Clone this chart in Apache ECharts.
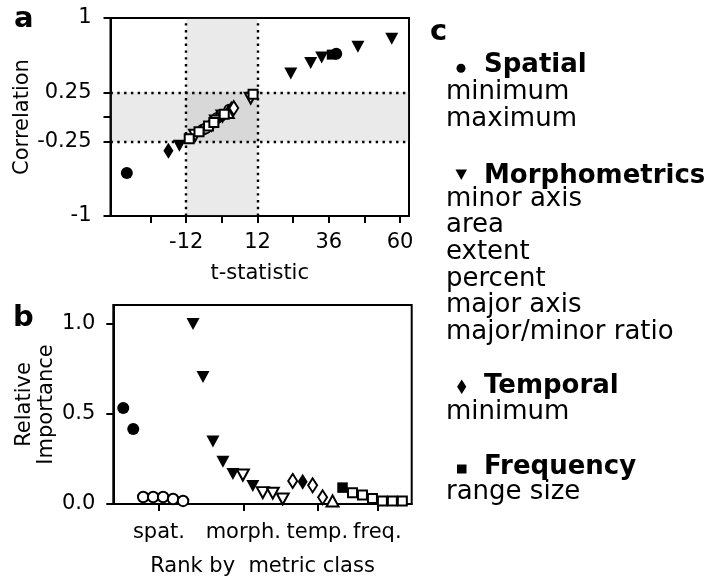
<!DOCTYPE html>
<html>
<head>
<meta charset="utf-8">
<script src="https://cdn.jsdelivr.net/npm/echarts@6/dist/echarts.min.js"></script>
<style>
html,body{margin:0;padding:0;background:#fff;}
#chart{width:714px;height:581px;}
</style>
</head>
<body>
<div id="chart"></div>
<script>
// ---------- Panel a: t-statistic vs correlation ----------
const spatialFilledA = [[-32, -0.566], [38.5, 0.64]];
const spatialOpenA = [[-6.5, -0.13], [-5.5, -0.115], [-1.6, -0.01], [-0.2, 0.013], [2.5, 0.074]];
const morphFilledA = [[-14.3, -0.29], [23.2, 0.44], [29.9, 0.545], [33.6, 0.6], [45.8, 0.71], [57.2, 0.79]];
const morphOpenA = [[-9, -0.185], [-2, -0.04], [0.2, 0.01], [9.7, 0.19]];
const tempFilledA = [[-18, -0.34]];
const tempOpenA = [[-3.5, -0.07], [3.2, 0.075], [4, 0.09]];
const tempUpOpenA = [[2, 0.045]];
const freqFilledA = [[37, 0.63]];
const freqOpenA = [[-11, -0.22], [-7.7, -0.15], [-4.5, -0.09], [-2.7, -0.055], [0.8, 0.027], [10.5, 0.23]];
const xTicksA = [-24, -12, 0, 12, 24, 36, 48, 60];
const xLabelsA = [-12, 12, 36, 60];
const yTicksA = [-1, -0.25, 0, 0.25, 1];
const yLabelsA = [-1, -0.25, 0.25, 1];
const tBand = [-12, 12];
const rBand = [-0.25, 0.25];

// ---------- Panel b: rank vs relative importance ----------
const spatialFilledB = [[0, 0.533], [1, 0.417]];
const spatialOpenB = [[2, 0.039], [3, 0.039], [4, 0.039], [5, 0.028], [6, 0.017]];
const morphFilledB = [[7, 1.0], [8, 0.705], [9, 0.347], [10, 0.235], [11, 0.167], [13, 0.10]];
const morphOpenB = [[12, 0.161], [14, 0.063], [15, 0.06], [16, 0.028]];
const tempFilledB = [[18, 0.124]];
const tempOpenB = [[17, 0.128], [19, 0.104], [20, 0.037]];
const tempUpOpenB = [[21, 0.017]];
const freqFilledB = [[22, 0.091]];
const freqOpenB = [[23, 0.063], [24, 0.05], [25, 0.03], [26, 0.017], [27, 0.017], [28, 0.017]];
const classTicksB = [3.58, 12.04, 19.47, 25.49];
const classNamesB = ['spat.', 'morph.', 'temp.', 'freq.'];
const yTicksB = [0, 0.5, 1.0];

// ---------- Panel c: legend text ----------
const legendHeaders = ['Spatial', 'Morphometrics', 'Temporal', 'Frequency'];
const legendItems = [
  ['minimum', 'maximum'],
  ['minor axis', 'area', 'extent', 'percent', 'major axis', 'major/minor ratio'],
  ['minimum'],
  ['range size']
];

const FONT = '"DejaVu Sans", "Liberation Sans", sans-serif';
const FS = 21;

const chart = echarts.init(document.getElementById('chart'), null, {renderer: 'canvas'});

function axisCommon() {
  return {
    axisLine: {show: true, onZero: false, lineStyle: {color: '#000', width: 2}},
    axisTick: {show: true, inside: false, length: 7, lineStyle: {color: '#000', width: 2}},
    splitLine: {show: false},
    axisLabel: {color: '#000', fontSize: FS, fontFamily: FONT},
    nameTextStyle: {color: '#000', fontSize: FS, fontFamily: FONT}
  };
}

function sc(name, data, xi, symbol, size, filled, rotate, z) {
  return {
    type: 'scatter', name: name, data: data,
    xAxisIndex: xi, yAxisIndex: xi,
    symbol: symbol, symbolSize: size, symbolRotate: rotate || 0,
    itemStyle: filled ? {color: '#000', borderColor: '#000', borderWidth: 0, opacity: 1}
                      : {color: '#fff', borderColor: '#000', borderWidth: 2, opacity: 1},
    emphasis: {disabled: true},
    silent: true,
    z: z || 2
  };
}

const dotted = [2.4, 4.4];

const xA = Object.assign(axisCommon(), {
  type: 'value', gridIndex: 0, min: -37.5, max: 63, name: 't-statistic',
  nameLocation: 'middle', nameGap: 47
});
xA.axisTick.customValues = xTicksA;
xA.axisLabel.customValues = xLabelsA;
xA.axisLabel.margin = 16;

const yA = Object.assign(axisCommon(), {
  type: 'value', gridIndex: 0, min: -1, max: 1, name: 'Correlation',
  nameLocation: 'middle', nameGap: 73
});
yA.axisTick.customValues = yTicksA;
yA.axisLabel.customValues = yLabelsA;
yA.axisLabel.margin = 19;

const xB = Object.assign(axisCommon(), {
  type: 'value', gridIndex: 1, min: -1, max: 28.94, name: 'Rank by  metric class',
  nameLocation: 'middle', nameGap: 52
});
xB.axisTick.customValues = classTicksB;
xB.axisLabel.customValues = classTicksB;
xB.axisLabel.margin = 18;
xB.axisLabel.formatter = function (v) {
  let best = 0, bd = 1e9;
  classTicksB.forEach(function (t, i) { const d = Math.abs(t - v); if (d < bd) { bd = d; best = i; } });
  return classNamesB[best];
};

const yB = Object.assign(axisCommon(), {
  type: 'value', gridIndex: 1, min: 0, max: 1.105, name: 'Relative\nImportance',
  nameLocation: 'middle', nameGap: 56
});
yB.axisTick.customValues = yTicksB;
yB.axisLabel.customValues = yTicksB;
yB.axisLabel.margin = 18;
yB.axisLabel.formatter = function (v) { return v.toFixed(1); };
yB.nameTextStyle.lineHeight = 22;

const bandColor = 'rgba(128,128,128,0.17)';

const series = [
  // shading + reference lines in panel a
  {
    type: 'scatter', xAxisIndex: 0, yAxisIndex: 0, data: [], silent: true, z: 1,
    markArea: {
      silent: true,
      itemStyle: {color: bandColor, borderWidth: 0},
      data: [
        [{xAxis: tBand[0], yAxis: -1}, {xAxis: tBand[1], yAxis: 1}],
        [{xAxis: -37.5, yAxis: rBand[0]}, {xAxis: 63, yAxis: rBand[1]}]
      ]
    },
    markLine: {
      silent: true, symbol: 'none', label: {show: false},
      lineStyle: {color: '#000', width: 2.4, type: dotted},
      data: [
        {xAxis: tBand[0]}, {xAxis: tBand[1]},
        {yAxis: rBand[0]}, {yAxis: rBand[1]}
      ]
    }
  },
  sc('spatial', spatialFilledA, 0, 'circle', 12, true, 0, 3),
  sc('spatial open', spatialOpenA, 0, 'circle', 10, false, 0, 3),
  sc('morph', morphFilledA, 0, 'triangle', [13, 12], true, 180, 4),
  sc('morph open', morphOpenA, 0, 'triangle', [12, 11], false, 180, 4),
  sc('temp', tempFilledA, 0, 'diamond', [10, 16], true, 0, 5),
  sc('temp open', tempOpenA, 0, 'diamond', [9, 14], false, 0, 5),
  sc('temp up open', tempUpOpenA, 0, 'triangle', [12, 11], false, 0, 5),
  sc('freq', freqFilledA, 0, 'rect', 10, true, 0, 6),
  sc('freq open', freqOpenA, 0, 'rect', 9, false, 0, 6),

  sc('spatial b', spatialFilledB, 1, 'circle', 12, true, 0, 3),
  sc('spatial open b', spatialOpenB, 1, 'circle', 10.5, false, 0, 3),
  sc('morph b', morphFilledB, 1, 'triangle', [13, 12], true, 180, 4),
  sc('morph open b', morphOpenB, 1, 'triangle', [12, 11], false, 180, 4),
  sc('temp b', tempFilledB, 1, 'diamond', [10, 16], true, 0, 5),
  sc('temp open b', tempOpenB, 1, 'diamond', [9, 14], false, 0, 5),
  sc('temp up open b', tempUpOpenB, 1, 'triangle', [12, 11], false, 0, 5),
  sc('freq b', freqFilledB, 1, 'rect', 10.5, true, 0, 6),
  sc('freq open b', freqOpenB, 1, 'rect', 9, false, 0, 6)
];

// panel c text elements
const graphics = [];
function txt(s, x, y, bold, size) {
  graphics.push({
    type: 'text', x: x, y: y, silent: true,
    style: {
      text: s, fill: '#000',
      font: (bold ? 'bold ' : '') + size + 'px ' + FONT,
      align: 'left', verticalAlign: 'middle'
    }
  });
}
txt('a', 14, 19, true, 29);
txt('b', 13, 318, true, 29);
txt('c', 430, 32, true, 29);

const headerY = [65.6, 176.5, 386.6, 467.3];
const itemY = [
  [92.3, 118.9],
  [198.9, 225.6, 252.3, 278.9, 305.6, 332.3],
  [412.3],
  [492.3]
];
legendHeaders.forEach(function (h, i) {
  txt(h, 484, headerY[i], true, 26);
  legendItems[i].forEach(function (it, j) { txt(it, 446, itemY[i][j], false, 26); });
});
// legend glyphs
graphics.push({type: 'circle', silent: true, shape: {cx: 461, cy: 68.3, r: 4.5}, style: {fill: '#000'}});
graphics.push({type: 'polygon', silent: true, shape: {points: [[455.5, 169.5], [467, 169.5], [461.3, 180]]}, style: {fill: '#000'}});
graphics.push({type: 'polygon', silent: true, shape: {points: [[461.7, 379.5], [466.3, 386.7], [461.7, 393.9], [457.1, 386.7]]}, style: {fill: '#000'}});
graphics.push({type: 'rect', silent: true, shape: {x: 457, y: 464.5, width: 9.5, height: 9}, style: {fill: '#000'}});

chart.setOption({
  animation: false,
  backgroundColor: '#fff',
  textStyle: {fontFamily: FONT},
  grid: [
    {left: 110.5, top: 18, width: 298.5, height: 198, show: true, borderColor: '#000', borderWidth: 2, backgroundColor: 'transparent', containLabel: false, outerBoundsMode: 'none'},
    {left: 113.3, top: 305, width: 298.4, height: 199, show: true, borderColor: '#000', borderWidth: 2, backgroundColor: 'transparent', containLabel: false, outerBoundsMode: 'none'}
  ],
  xAxis: [xA, xB],
  yAxis: [yA, yB],
  series: series,
  graphic: graphics
});
</script>
</body>
</html>
